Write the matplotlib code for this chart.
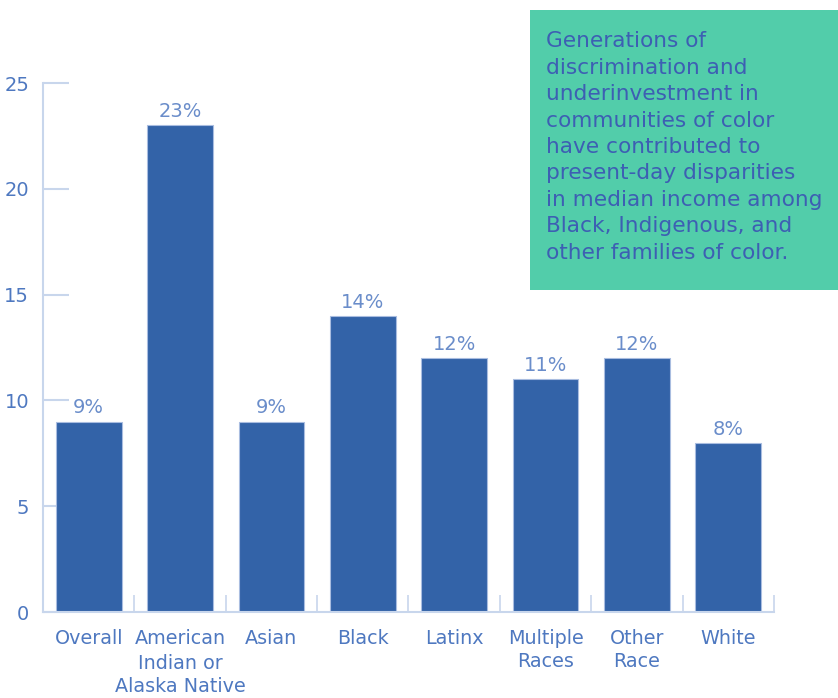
import numpy as np
import matplotlib.pyplot as plt
from matplotlib.patches import Rectangle

# data
categories = ['Overall', 'American', 'Asian', 'Black',
              'Latinx', 'Multiple\nRaces', 'Other\nRace', 'White']
extra_label = 'Indian or\nAlaska Native'   # rest of the 2nd category name
values = [9, 23, 9, 14, 12, 11, 12, 8]
yticks = [0, 5, 10, 15, 20, 25]
note = ('Generations of\ndiscrimination and\nunderinvestment in\ncommunities of color\n'
        'have contributed to\npresent-day disparities\nin median income among\n'
        'Black, Indigenous, and\nother families of color.')

bar_col = '#3363a8'
lab_col = '#4e78c0'
axis_col = '#c8d6ec'
fs_cat = 13.8

plt.rcParams['font.family'] = ['DejaVu Sans']

fig = plt.figure(figsize=(8.38, 6.98), dpi=100)
ax = fig.add_axes([0.0513, 0.1232, 0.8723, 0.7578])

x = np.arange(len(categories))
ax.bar(x, values, width=0.72, color=bar_col, edgecolor='#a9bde0', linewidth=0.8, zorder=2)
for xi, v in zip(x, values):
    ax.text(xi, v + 0.2, '%d%%' % v, ha='center', va='bottom', fontsize=14, color='#6a8dca')

ax.set_xlim(-0.5, 7.5)
ax.set_ylim(0, 25)
ax.set_yticks(yticks)
ax.set_yticklabels([str(t) for t in yticks], fontsize=14, color=lab_col)
ax.tick_params(axis='y', direction='in', length=19, width=1.5, color=axis_col, pad=10)

# category labels, boundary ticks on x
ax.set_xticks(x)
ax.set_xticklabels(categories, fontsize=fs_cat, color=lab_col, va='top', linespacing=1.3)
ax.tick_params(axis='x', length=0, pad=12)
ax.set_xticks(np.arange(0.5, 8.0, 1), minor=True)
ax.tick_params(axis='x', which='minor', direction='in', length=12, width=1.2, color=axis_col)
ax.annotate(extra_label, xy=(1, 0), xycoords=('data', 'axes fraction'),
            xytext=(0, -12 - 1.3 * fs_cat), textcoords='offset points',
            ha='center', va='top', fontsize=fs_cat, color=lab_col, linespacing=1.3,
            annotation_clip=False)

for s in ['top', 'right']:
    ax.spines[s].set_visible(False)
for s in ['left', 'bottom']:
    ax.spines[s].set_color(axis_col)
    ax.spines[s].set_linewidth(1.5)

# note box
fig.patches.append(Rectangle((0.6325, 0.5845), 0.3675, 0.401, transform=fig.transFigure,
                             facecolor='#52cdaa', edgecolor='none', zorder=3))
fig.text(0.652, 0.955, note, ha='left', va='top', fontsize=15.6, color='#3d5fb3',
         linespacing=1.4, zorder=4)

fig.savefig('out.png', dpi=100)
